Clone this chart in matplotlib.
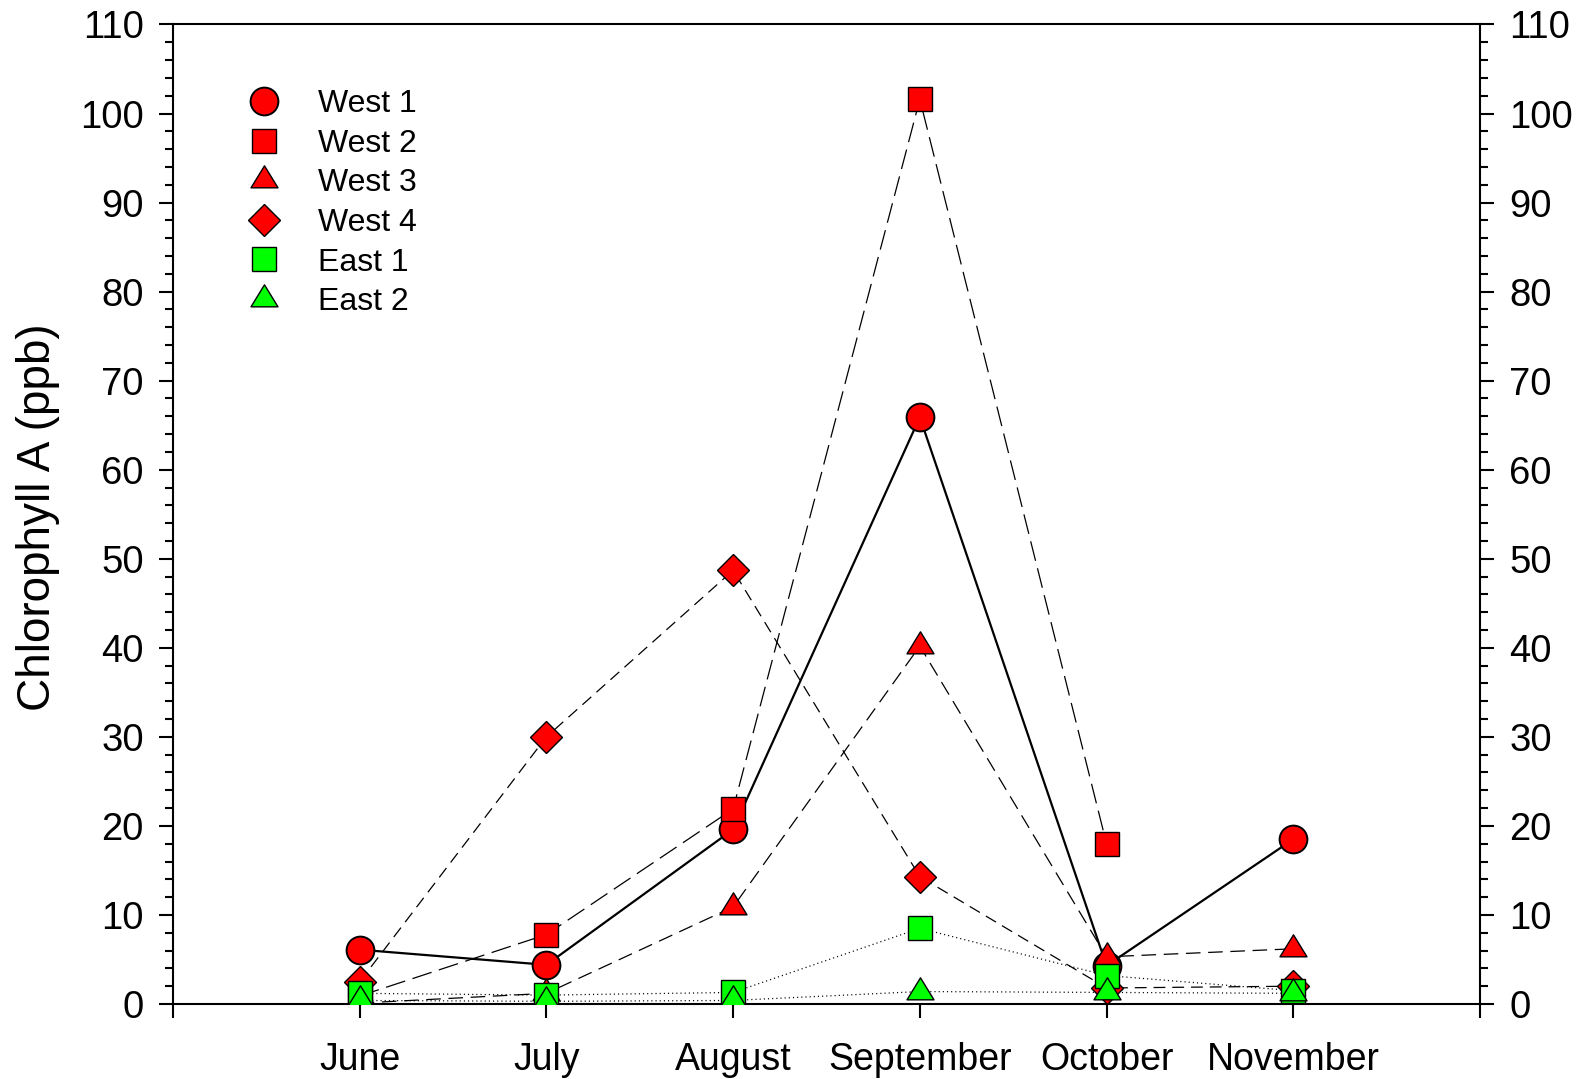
import matplotlib
matplotlib.use("Agg")
import matplotlib.pyplot as plt
import numpy as np
from matplotlib.path import Path
from matplotlib.lines import Line2D

plt.rcParams['font.family'] = ['Liberation Sans', 'DejaVu Sans']
plt.rcParams['lines.scale_dashes'] = False

# Monthly chlorophyll A readings (ppb) per sampling site
months = ["June", "July", "August", "September", "October", "November"]
west1 = [6.1, 4.4, 19.6, 65.9, 4.3, 18.5]
west2 = [0.9, 7.8, 21.9, 101.6, 18.0, None]
west3 = [0.1, 1.2, 10.9, 40.2, 5.3, 6.2]
west4 = [2.5, 30.0, 48.7, 14.3, 1.8, 2.0]
east1 = [1.2, 1.0, 1.3, 8.5, 3.2, 1.5]
east2 = [0.4, 0.3, 0.4, 1.4, 1.3, 1.2]

series_names = ["West 1", "West 2", "West 3", "West 4", "East 1", "East 2"]
series_values = [west1, west2, west3, west4, east1, east2]

RED = "#FF0000"
GREEN = "#00FF00"

# Triangle whose centroid sits on the data point
tw, th = 27.0, 22.0
tri_path = Path([(0, 2 * th / 3), (-tw / 2, -th / 3), (tw / 2, -th / 3), (0, 2 * th / 3)],
                [Path.MOVETO, Path.LINETO, Path.LINETO, Path.CLOSEPOLY])
tri_ms = 2 * (2 * th / 3) * 0.72

styles = [
    dict(marker="o", ms=20.0, color=RED, ls="-", lw=1.6, dashes=None, mew=1.4),
    dict(marker="s", ms=17.0, color=RED, ls="--", lw=0.9, dashes=(14.5, 5.5), mew=1.0),
    dict(marker=tri_path, ms=tri_ms, color=RED, ls="--", lw=0.9, dashes=(10.5, 5.5), mew=1.0),
    dict(marker="D", ms=16.0, color=RED, ls="--", lw=0.9, dashes=(8.5, 5.0), mew=1.0),
    dict(marker="s", ms=17.0, color=GREEN, ls=":", lw=0.9, dashes=(0.8, 2.2), mew=1.0),
    dict(marker=tri_path, ms=tri_ms, color=GREEN, ls=":", lw=0.9, dashes=(0.8, 2.2), mew=1.0),
]

fig = plt.figure(figsize=(15.81, 10.79), dpi=100)
ax = fig.add_axes([0.1094, 0.0695, 0.9361 - 0.1094, 0.9773 - 0.0695])

x = np.arange(1, len(months) + 1)

# connecting lines first, then symbols on top
for i, (vals, st) in enumerate(zip(series_values, styles)):
    xs = [xi for xi, v in zip(x, vals) if v is not None]
    ys = [v for v in vals if v is not None]
    line, = ax.plot(xs, ys, color="black", lw=st["lw"], zorder=2)
    if st["dashes"] is not None:
        line.set_dashes(st["dashes"])
    ax.plot(xs, ys, linestyle="none", marker=st["marker"], ms=st["ms"],
            markerfacecolor=st["color"], markeredgecolor="black",
            markeredgewidth=st["mew"], zorder=3 + i)

ax.set_xlim(0, 7)
ax.set_ylim(0, 110)
ax.set_xticks(np.arange(0, 8))
ax.set_xticklabels([""] + months + [""])
ax.set_yticks(np.arange(0, 111, 10))
ax.set_yticks(np.arange(0, 111, 2), minor=True)

for sp in ax.spines.values():
    sp.set_linewidth(1.5)

ax.tick_params(axis="x", which="major", direction="out", length=10, width=1.5,
               labelsize=27, pad=17)
ax.tick_params(axis="x", which="minor", bottom=False)
ax.tick_params(axis="y", which="major", direction="out", length=10, width=1.5,
               labelsize=27.5, pad=11, left=True, right=True, labelleft=True, labelright=True)
ax.tick_params(axis="y", which="minor", direction="out", length=6, width=1.5,
               left=True, right=True)

ax.set_ylabel("Chlorophyll A (ppb)", fontsize=33)
ax.yaxis.set_label_coords(-0.0865, 0.497)

handles = [Line2D([], [], linestyle="none", marker=st["marker"], ms=st["ms"],
                  markerfacecolor=st["color"], markeredgecolor="black",
                  markeredgewidth=st["mew"]) for st in styles]
ax.legend(handles, series_names, loc="upper left", bbox_to_anchor=(0.0427, 0.947),
          frameon=False, fontsize=23, handlelength=1.4, handletextpad=0.98,
          labelspacing=0.30, borderaxespad=0)

fig.savefig("out.png", dpi=100, facecolor="white")
